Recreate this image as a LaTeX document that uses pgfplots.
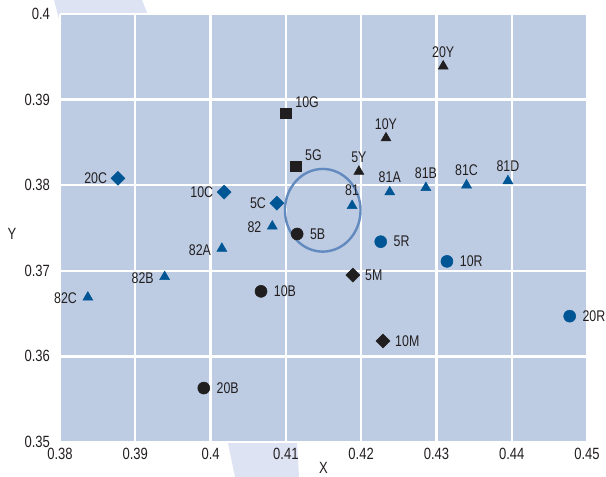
\documentclass[border=0pt]{standalone}
\usepackage{pgfplots}
\pgfplotsset{compat=1.18}
\usepackage{fontspec}
\setmainfont[FakeStretch=0.8]{Liberation Sans}
\definecolor{bgblue}{RGB}{189,204,227}
\definecolor{bandblue}{RGB}{221,227,243}
\definecolor{mblue}{RGB}{0,86,148}
\definecolor{mblack}{RGB}{32,30,31}
\definecolor{ringblue}{RGB}{98,138,190}
\definecolor{txt}{RGB}{35,31,32}
\begin{document}
\begin{tikzpicture}
\path[use as bounding box] (-45pt,-26.25pt) rectangle (409.5pt,331.5pt);
\fill[bandblue] (-4.5pt,331.5pt) -- (61.5pt,331.5pt) -- (67pt,318pt) -- (-1pt,318pt) -- cycle;
\fill[bandblue] (125pt,4pt) -- (177.5pt,4pt) -- (179.25pt,-26.25pt) -- (131.25pt,-26.25pt) -- cycle;
\begin{axis}[
  scale only axis,
  width=395.25pt, height=321pt,
  xmin=0.38, xmax=0.45, ymin=0.35, ymax=0.4,
  xtick={0.38,0.39,...,0.45},
  ytick={0.35,0.36,...,0.4},
  axis background/.style={fill=bgblue},
  axis line style={draw=none},
  major tick length=0pt,
  grid=major,
  major grid style={white, line width=1.7pt},
  /pgf/number format/fixed,
  /pgf/number format/precision=2,
  /pgf/number format/assume math mode=true,
  tick label style={font=\fontsize{12.2}{13}\selectfont, text=txt},
  xticklabel style={yshift=-1pt},
  yticklabel style={xshift=-4pt},
  xlabel={X}, ylabel={Y},
  label style={font=\fontsize{12.2}{13}\selectfont, text=txt, inner sep=0pt},
  xlabel style={at={(axis description cs:0.5,0)}, anchor=center, yshift=-19.5pt},
  ylabel style={rotate=-90, at={(axis description cs:0,0.5)}, anchor=center, xshift=-36pt, yshift=-4.5pt},
  point meta=explicit symbolic,
  nodes near coords,
  every node near coord/.append style={font=\fontsize{11.6}{12}\selectfont, text=txt, inner sep=0pt},
  clip=false,
]
% ellipse
\draw[ringblue, line width=1.8pt] (axis cs:0.4149,0.37707) ellipse [x radius=0.00502*395.25pt/0.07, y radius=0.00483*321pt/0.05];
% blue diamonds C (labels left)
\addplot[only marks, mark=square*, mark options={rotate=45, fill=mblue, draw=mblue}, mark size=3.7pt,
  every node near coord/.append style={anchor=east, xshift=-8pt}]
  table[meta=l] {
x y l
0.3877 0.3808 20C
0.4018 0.3792 10C
0.4088 0.3779 5C
};
% blue triangles 82 (labels left)
\addplot[only marks, mark=triangle*, mark options={fill=mblue, draw=mblue}, mark size=4.3pt,
  every node near coord/.append style={anchor=east, xshift=-8pt, yshift=-1pt}]
  table[meta=l] {
x y l
0.4082 0.3752 82
0.4015 0.3726 82A
0.3939 0.3693 82B
0.3837 0.3669 82C
};
% blue triangles 81 (labels above)
\addplot[only marks, mark=triangle*, mark options={fill=mblue, draw=mblue}, mark size=4.3pt,
  every node near coord/.append style={anchor=south, yshift=7pt}]
  table[meta=l] {
x y l
0.4188 0.3776 81
0.4238 0.3792 81A
0.4286 0.3797 81B
0.4340 0.3800 81C
0.4395 0.3805 81D
};
% black squares G (labels above right)
\addplot[only marks, mark=square*, mark options={fill=mblack, draw=mblack}, mark size=3.9pt,
  every node near coord/.append style={anchor=south west, xshift=7pt, yshift=4pt}]
  table[meta=l] {
x y l
0.4100 0.3884 10G
0.4113 0.3822 5G
};
% black circles B (labels right)
\addplot[only marks, mark=*, mark options={fill=mblack, draw=mblack}, mark size=4.5pt,
  every node near coord/.append style={anchor=west, xshift=9.5pt}]
  table[meta=l] {
x y l
0.4115 0.3743 5B
0.4067 0.3676 10B
0.3991 0.3563 20B
};
% blue circles R (labels right)
\addplot[only marks, mark=*, mark options={fill=mblue, draw=mblue}, mark size=4.5pt,
  every node near coord/.append style={anchor=west, xshift=9.5pt}]
  table[meta=l] {
x y l
0.4226 0.3734 5R
0.4314 0.3711 10R
0.4477 0.3647 20R
};
% black diamonds M (labels right)
\addplot[only marks, mark=square*, mark options={rotate=45, fill=mblack, draw=mblack}, mark size=3.7pt,
  every node near coord/.append style={anchor=west, xshift=9pt}]
  table[meta=l] {
x y l
0.4189 0.3695 5M
0.4229 0.3618 10M
};
% black triangles Y (labels above)
\addplot[only marks, mark=triangle*, mark options={fill=mblack, draw=mblack}, mark size=4.3pt,
  every node near coord/.append style={anchor=south, yshift=6.5pt}]
  table[meta=l] {
x y l
0.4197 0.3816 5Y
0.4233 0.3855 10Y
0.4309 0.3939 20Y
};
\end{axis}
\end{tikzpicture}
\end{document}
